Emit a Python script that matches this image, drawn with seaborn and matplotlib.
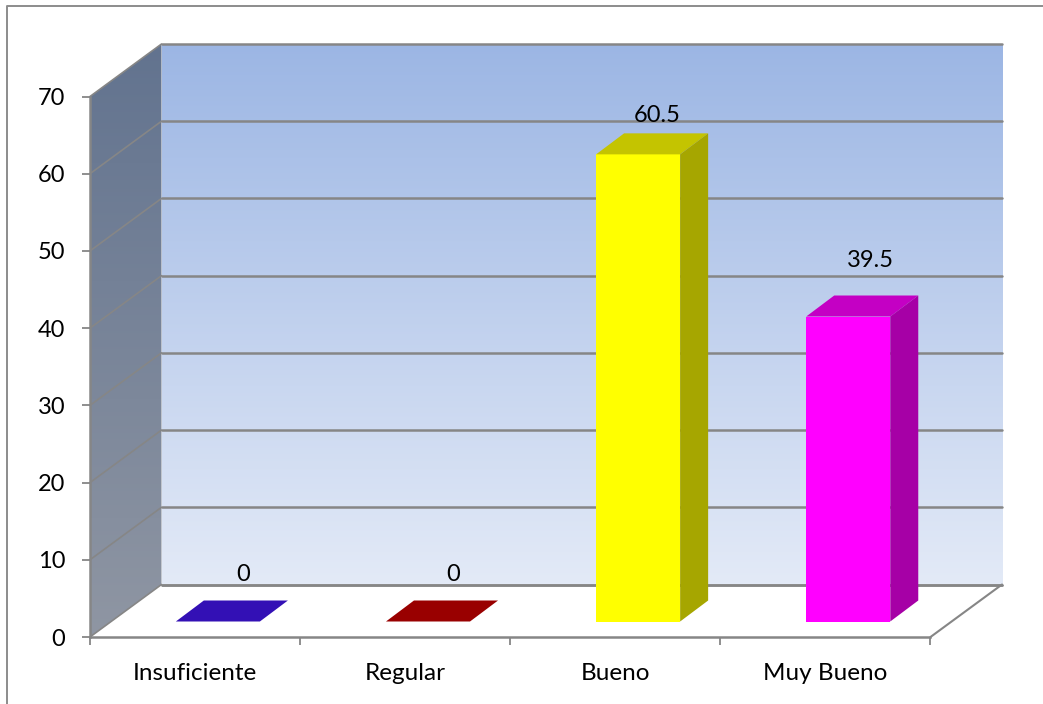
import numpy as np
import pandas as pd
import matplotlib
matplotlib.use("Agg")
import matplotlib.pyplot as plt
from matplotlib.colors import LinearSegmentedColormap
from matplotlib.lines import Line2D
from matplotlib.patches import Polygon
import seaborn as sns

categories = ["Insuficiente", "Regular", "Bueno", "Muy Bueno"]
values = [0, 0, 60.5, 39.5]
value_labels = ["0", "0", "60.5", "39.5"]
front_colors = ["#3310B5", "#990000", "#FFFF00", "#FF00FF"]
top_colors = ["#3310B5", "#990000", "#C4C400", "#C400C4"]
side_colors = ["#260C88", "#730000", "#A6A600", "#A600A6"]
y_ticks = list(range(0, 80, 10))

W, H = 1043, 704
GRID = "#868686"
FLOOR_SHIFT = (71.5, 52.5)   # pixel offset of the back wall
BAR_SHIFT = (22.8, 15.5)     # pixel offset of the bar front faces
BAR_DEPTH = (28.0, 21.0)     # pixel depth of each bar
PLOT_BOX = (90.0, 930.5, 637.0, 96.5)  # left, right, bottom, top
LABEL_NUDGE = [(-45, 26), (-45, 26), (-51, 18), (-48, 35)]  # pixels from each bar's rear top corner


def place(fig, left, right, bottom, top):
    return fig.add_axes([left / W, 1 - bottom / H, (right - left) / W, (bottom - top) / H])


sns.set_theme(style="white")
plt.rcParams["font.family"] = ["Lato", "DejaVu Sans"]

fig = plt.figure(figsize=(W / 100, H / 100), dpi=100, facecolor="white")
l, r, b, t = PLOT_BOX
x_lim = (-0.5, 3.5)
y_lim = (0, 70)
per_cat = (r - l) / 4
per_unit = (b - t) / 70

# Chart frame: only the top and left edges fall inside the canvas
frame_x = [6.5 / W, 6.5 / W, 1.0]
frame_y = [0.0, 1 - 5.5 / H, 1 - 5.5 / H]
fig.add_artist(Line2D(frame_x, frame_y, transform=fig.transFigure, color="#8C8C8C", linewidth=1.4))

# Back wall with a vertical gradient and gridlines
back = place(fig, l + FLOOR_SHIFT[0], r + FLOOR_SHIFT[0], b - FLOOR_SHIFT[1], t - FLOOR_SHIFT[1])
wall_cmap = LinearSegmentedColormap.from_list("wall", ["#E3EAF7", "#9CB6E4"])
back.imshow(np.linspace(0, 1, 256)[:, None], origin="lower", aspect="auto", cmap=wall_cmap,
            extent=(*x_lim, *y_lim), zorder=0)
back.set_xlim(x_lim)
back.set_ylim(y_lim)
back.set_yticks(y_ticks)
back.set_xticks([])
back.tick_params(left=False, labelleft=False)
back.grid(axis="y", color=GRID, linewidth=1.8, zorder=1)
back.set_axisbelow(False)
for gridline in back.get_ygridlines():
    gridline.set_clip_on(False)
for spine in back.spines.values():
    spine.set_visible(False)

# Front plane: axis ticks, labels, side wall and floor edges
ax = place(fig, l, r, b, t)
ax.patch.set_alpha(0)
dx = FLOOR_SHIFT[0] / per_cat
dy = FLOOR_SHIFT[1] / per_unit

side_cmap = LinearSegmentedColormap.from_list("side", ["#8F96A3", "#62738F"])
side_img = ax.imshow(np.linspace(0, 1, 256)[:, None], origin="lower", aspect="auto", cmap=side_cmap,
                     extent=(x_lim[0], x_lim[0] + dx, 0, 70 + dy), zorder=1)
ax.set_xlim(x_lim)
ax.set_ylim(y_lim)
side_wall = Polygon([(x_lim[0], 0), (x_lim[0] + dx, dy), (x_lim[0] + dx, 70 + dy), (x_lim[0], 70)],
                    closed=True, transform=ax.transData, facecolor="none", edgecolor="none", clip_on=False)
ax.add_patch(side_wall)
side_img.set_clip_box(fig.bbox)
side_img.set_clip_path(side_wall)

for tick in y_ticks:
    ax.plot([x_lim[0], x_lim[0] + dx], [tick, tick + dy], color=GRID, linewidth=1.2,
            clip_on=False, zorder=2, solid_capstyle="round")
# Right floor edge and the base of the back wall
ax.plot([x_lim[1], x_lim[1] + dx], [0, dy], color=GRID, linewidth=1.5, clip_on=False, zorder=2)
ax.plot([x_lim[0] + dx, x_lim[1] + dx], [dy, dy], color=GRID, linewidth=1.8, clip_on=False, zorder=2)

ax.set_yticks(y_ticks)
ax.set_xticks(np.arange(-0.5, 4, 1))
ax.set_xticklabels([])
ax.tick_params(axis="both", length=5.8, width=1.3, color=GRID, direction="out", bottom=True, left=True)
ax.tick_params(axis="y", labelsize=17, labelcolor="black", pad=12)
for side, spine in ax.spines.items():
    spine.set_visible(side in ("left", "bottom"))
    spine.set_color(GRID)
    spine.set_linewidth(1.8)
for pos, name in enumerate(categories):
    ax.annotate(name, (pos, 0), xytext=(0, -36), textcoords="offset pixels", ha="center", va="center",
                fontsize=17.5, color="black", annotation_clip=False)

# Bars sit on a plane set slightly into the floor
bars = place(fig, l + BAR_SHIFT[0], r + BAR_SHIFT[0], b - BAR_SHIFT[1], t - BAR_SHIFT[1])
bars.patch.set_alpha(0)
frame = pd.DataFrame({"categoria": categories, "valor": values})
sns.barplot(data=frame, x="categoria", y="valor", hue="categoria", palette=front_colors, legend=False,
            width=0.4, saturation=1, ax=bars, linewidth=0, zorder=3)
bars.set_xlim(x_lim)
bars.set_ylim(y_lim)
bars.axis("off")

bdx = BAR_DEPTH[0] / per_cat
bdy = BAR_DEPTH[1] / per_unit
half = 0.2
for i, v in enumerate(values):
    x0, x1 = i - half, i + half
    bars.add_patch(Polygon([(x0, v), (x1, v), (x1 + bdx, v + bdy), (x0 + bdx, v + bdy)], closed=True,
                           facecolor=top_colors[i], edgecolor="none", clip_on=False, zorder=3))
    if v > 0:
        bars.add_patch(Polygon([(x1, 0), (x1 + bdx, bdy), (x1 + bdx, v + bdy), (x1, v)], closed=True,
                               facecolor=side_colors[i], edgecolor="none", clip_on=False, zorder=3))
    bars.annotate(value_labels[i], (i + half + bdx, v + bdy), xytext=LABEL_NUDGE[i], textcoords="offset pixels",
                  ha="center", va="center", fontsize=17, color="black", annotation_clip=False, zorder=6)

fig.savefig("out.png", dpi=100, facecolor="white")
